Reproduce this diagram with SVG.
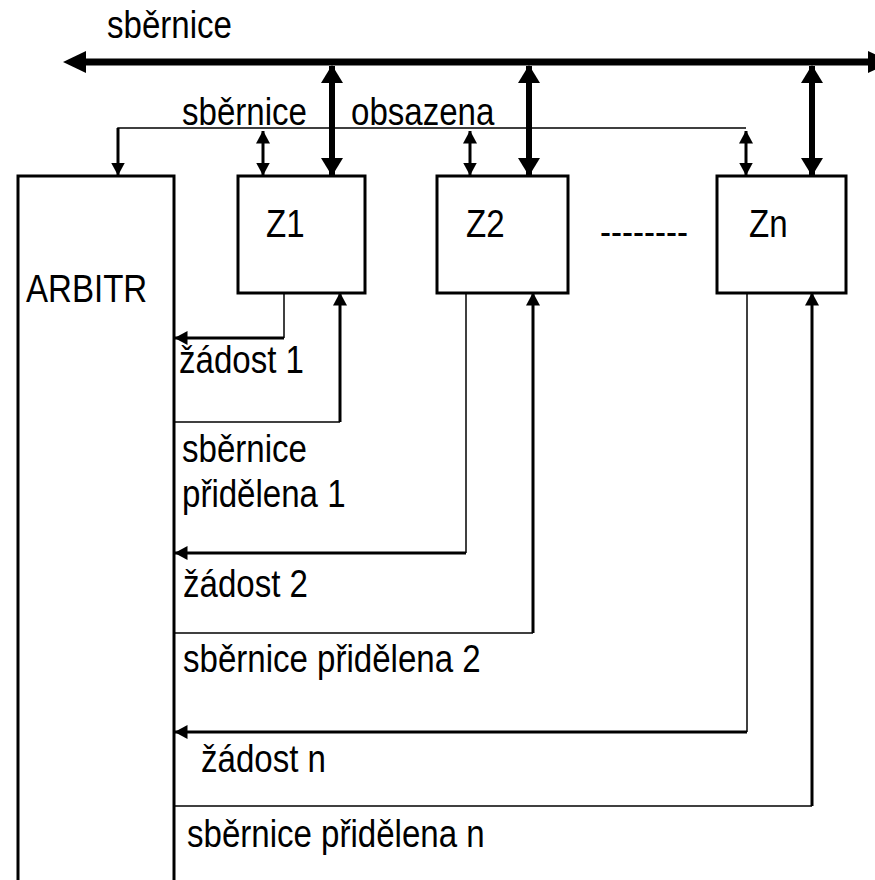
<svg xmlns="http://www.w3.org/2000/svg" width="875" height="880" viewBox="0 0 875 880">
<style>
text{font-family:"Liberation Sans",Arial,sans-serif;font-size:38px;fill:#000}
.box{fill:#fff;stroke:#000;stroke-width:3}
.bus{stroke:#000;stroke-width:7;fill:none}
.vbus{stroke:#000;stroke-width:6;fill:none}
.thin{stroke:#000;stroke-width:1.5;fill:none}
.med{stroke:#000;stroke-width:3;fill:none}
.head{fill:#000;stroke:none}
</style>
<defs>
<marker id="big" viewBox="0 0 18 22" refX="17" refY="11" markerWidth="18" markerHeight="22" markerUnits="userSpaceOnUse" orient="auto-start-reverse"><path d="M0,0 L18,11 L0,22 Z" class="head"/></marker>
<marker id="sm" viewBox="0 0 13 14" refX="12.5" refY="7" markerWidth="13" markerHeight="14" markerUnits="userSpaceOnUse" orient="auto-start-reverse"><path d="M0,0 L13,7 L0,14 Z" class="head"/></marker>
</defs>
<g id="connectors">
<line class="bus" x1="80" y1="62" x2="870" y2="62"/>
<path class="head" d="M63,62 L86,51 L86,73 Z"/>
<path class="head" d="M868,51 L892,62 L868,73 Z"/>
<line class="vbus" x1="332" y1="66" x2="332" y2="175" marker-start="url(#big)" marker-end="url(#big)"/>
<line class="vbus" x1="529" y1="66" x2="529" y2="175" marker-start="url(#big)" marker-end="url(#big)"/>
<line class="vbus" x1="812" y1="66" x2="812" y2="175" marker-start="url(#big)" marker-end="url(#big)"/>
<polyline class="thin" points="118,175 118,128 746,128"/>
<line class="med" x1="118" y1="128" x2="118" y2="175" marker-end="url(#sm)"/>
<line class="med" x1="263" y1="131" x2="263" y2="175" marker-start="url(#sm)" marker-end="url(#sm)"/>
<line class="med" x1="470" y1="131" x2="470" y2="175" marker-start="url(#sm)" marker-end="url(#sm)"/>
<line class="med" x1="746" y1="131" x2="746" y2="175" marker-start="url(#sm)" marker-end="url(#sm)"/>
<polyline class="thin" points="284,293 284,338"/>
<line class="med" x1="284" y1="338" x2="175" y2="338" marker-end="url(#sm)"/>
<polyline class="thin" points="175,422 340,422"/>
<line class="med" x1="340" y1="422" x2="340" y2="293" marker-end="url(#sm)"/>
<polyline class="thin" points="466,293 466,553"/>
<line class="med" x1="466" y1="553" x2="175" y2="553" marker-end="url(#sm)"/>
<polyline class="thin" points="175,633 533,633"/>
<line class="med" x1="533" y1="633" x2="533" y2="293" marker-end="url(#sm)"/>
<polyline class="thin" points="747,293 747,732"/>
<line class="med" x1="747" y1="732" x2="175" y2="732" marker-end="url(#sm)"/>
<polyline class="thin" points="175,806 812,806"/>
<line class="med" x1="812" y1="806" x2="812" y2="293" marker-end="url(#sm)"/>
</g>
<g id="arbitr"><rect class="box" x="18" y="176" width="156" height="720"/><text transform="translate(26,302) scale(0.87,1)">ARBITR</text></g>
<g id="z1"><rect class="box" x="238" y="176" width="127" height="117"/><text transform="translate(266,237) scale(0.87,1)">Z1</text></g>
<g id="z2"><rect class="box" x="437" y="176" width="131" height="117"/><text transform="translate(466,237) scale(0.87,1)">Z2</text></g>
<g id="zn"><rect class="box" x="717" y="176" width="129" height="117"/><text transform="translate(749,237) scale(0.87,1)">Zn</text></g>
<g id="labels">
<text transform="translate(107,38) scale(0.87,1)">sběrnice</text>
<text transform="translate(182,125) scale(0.87,1)">sběrnice</text>
<text transform="translate(351,125) scale(0.87,1)">obsazena</text>
<text transform="translate(600,245) scale(0.87,1)">--------</text>
<text transform="translate(179,373) scale(0.87,1)">žádost 1</text>
<text transform="translate(182,462) scale(0.87,1)">sběrnice</text>
<text transform="translate(182,507) scale(0.87,1)">přidělena 1</text>
<text transform="translate(183,597) scale(0.87,1)">žádost 2</text>
<text transform="translate(183,672) scale(0.87,1)">sběrnice přidělena 2</text>
<text transform="translate(201,772) scale(0.87,1)">žádost n</text>
<text transform="translate(187,847) scale(0.87,1)">sběrnice přidělena n</text>
</g>
</svg>
